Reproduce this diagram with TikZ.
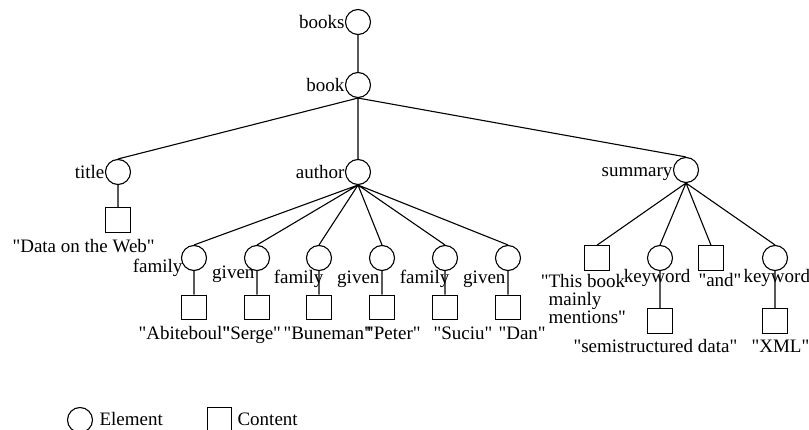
\documentclass[tikz,border=0pt]{standalone}
\usepackage{fontspec}
\setmainfont{Liberation Serif}[Ligatures=TeXOff]
\begin{document}
\begin{tikzpicture}[
		x=1pt, y=-1pt,
		font=\fontsize{19}{18}\selectfont,
		line width=1.1pt,
		elem/.style={circle,draw,minimum size=25pt,inner sep=0pt},
		cont/.style={rectangle,draw,minimum size=24.5pt,inner sep=0pt},
		every label/.style={inner sep=0pt,text height=13pt,text depth=0pt},
		label distance=0pt,
		txt/.style={inner sep=0pt,anchor=base west},
		txtr/.style={inner sep=0pt,anchor=base east}
	]
	\useasboundingbox (0,0) rectangle (809,430);
	% elements
	\node[elem,label=left:books] (books) at (358,22) {};
	\node[elem,label=left:book] (book) at (358,85) {};
	\node[elem,label=left:title] (title) at (118,172) {};
	\node[elem,label=left:author] (author) at (358,172) {};
	\node[elem,label=left:summary] (summary) at (686,170) {};
	\node[elem] (fam1) at (194,258) {};
	\node[elem] (giv1) at (257,258) {};
	\node[elem] (fam2) at (319,258) {};
	\node[elem] (giv2) at (382,258) {};
	\node[elem] (fam3) at (445,258) {};
	\node[elem] (giv3) at (508,258) {};
	\node[elem] (kw1) at (660,258) {};
	\node[elem] (kw2) at (775,258) {};
	% contents
	\node[cont] (titlebox) at (118,220) {};
	\node[cont] (fambox1) at (194,307.5) {};
	\node[cont] (givbox1) at (257,307.5) {};
	\node[cont] (fambox2) at (319,307.5) {};
	\node[cont] (givbox2) at (382,307.5) {};
	\node[cont] (fambox3) at (445,307.5) {};
	\node[cont] (givbox3) at (508,307.5) {};
	\node[cont] (thisbox) at (597,258) {};
	\node[cont] (andbox) at (711,258) {};
	\node[cont] (kwbox1) at (660,321) {};
	\node[cont] (kwbox2) at (775,321) {};
	% element names
	\node[txtr] (famtext1) at (183,273) {family};
	\node[txtr] (givtext1) at (255,279) {given};
	\node[txtr] (famtext2) at (324,284) {family};
	\node[txtr] (givtext2) at (380,284) {given};
	\node[txtr] (famtext3) at (450,284) {family};
	\node[txtr] (givtext3) at (506,284) {given};
	\node[txtr] (kwtext1) at (691,283) {keyword};
	\node[txt] (kwtext2) at (743,283) {keyword};
	% content texts
	\node[txt] (titletext) at (12,253) {"Data on the Web"};
	\node[txt] (abitext) at (138,340) {"Abiteboul"};
	\node[txt] (sergetext) at (222,340) {"Serge"};
	\node[txt] (bunetext) at (283,340) {"Buneman"};
	\node[txt] (petertext) at (365.5,340) {"Peter"};
	\node[txt] (suciutext) at (433,340) {"Suciu"};
	\node[txt] (dantext) at (498,340) {"Dan"};
	\node[txt,align=left] (thistext) at (548,324) {\llap{"}This book\\mainly\\mentions"};
	\node[txt] (andtext) at (698,287) {"and"};
	\node[txt] (semitext) at (573,353) {"semistructured data"};
	\node[txt] (xmltext) at (751,353) {"XML"};
	% edges
	\draw (books.south) -- (book.north)
		(book.south) -- (title.north)
		(book.south) -- (author.north)
		(book.south) -- (summary.north)
		(title.south) -- (titlebox.north)
		(author.south) -- (fam1.north)
		(author.south) -- (giv1.north)
		(author.south) -- (fam2.north)
		(author.south) -- (giv2.north)
		(author.south) -- (fam3.north)
		(author.south) -- (giv3.north)
		(fam1.south) -- (fambox1.north)
		(giv1.south) -- (givbox1.north)
		(fam2.south) -- (fambox2.north)
		(giv2.south) -- (givbox2.north)
		(fam3.south) -- (fambox3.north)
		(giv3.south) -- (givbox3.north)
		(summary.south) -- (thisbox.north)
		(summary.south) -- (kw1.north)
		(summary.south) -- (andbox.north)
		(summary.south) -- (kw2.north)
		(kw1.south) -- (kwbox1.north)
		(kw2.south) -- (kwbox2.north);
	% legend
	\node[elem] (elemkey) at (80,420) {};
	\node[txt] (elemtext) at (99,425) {Element};
	\node[cont] (contkey) at (219.5,419.5) {};
	\node[txt] (conttext) at (237,425) {Content};
\end{tikzpicture}
\end{document}
